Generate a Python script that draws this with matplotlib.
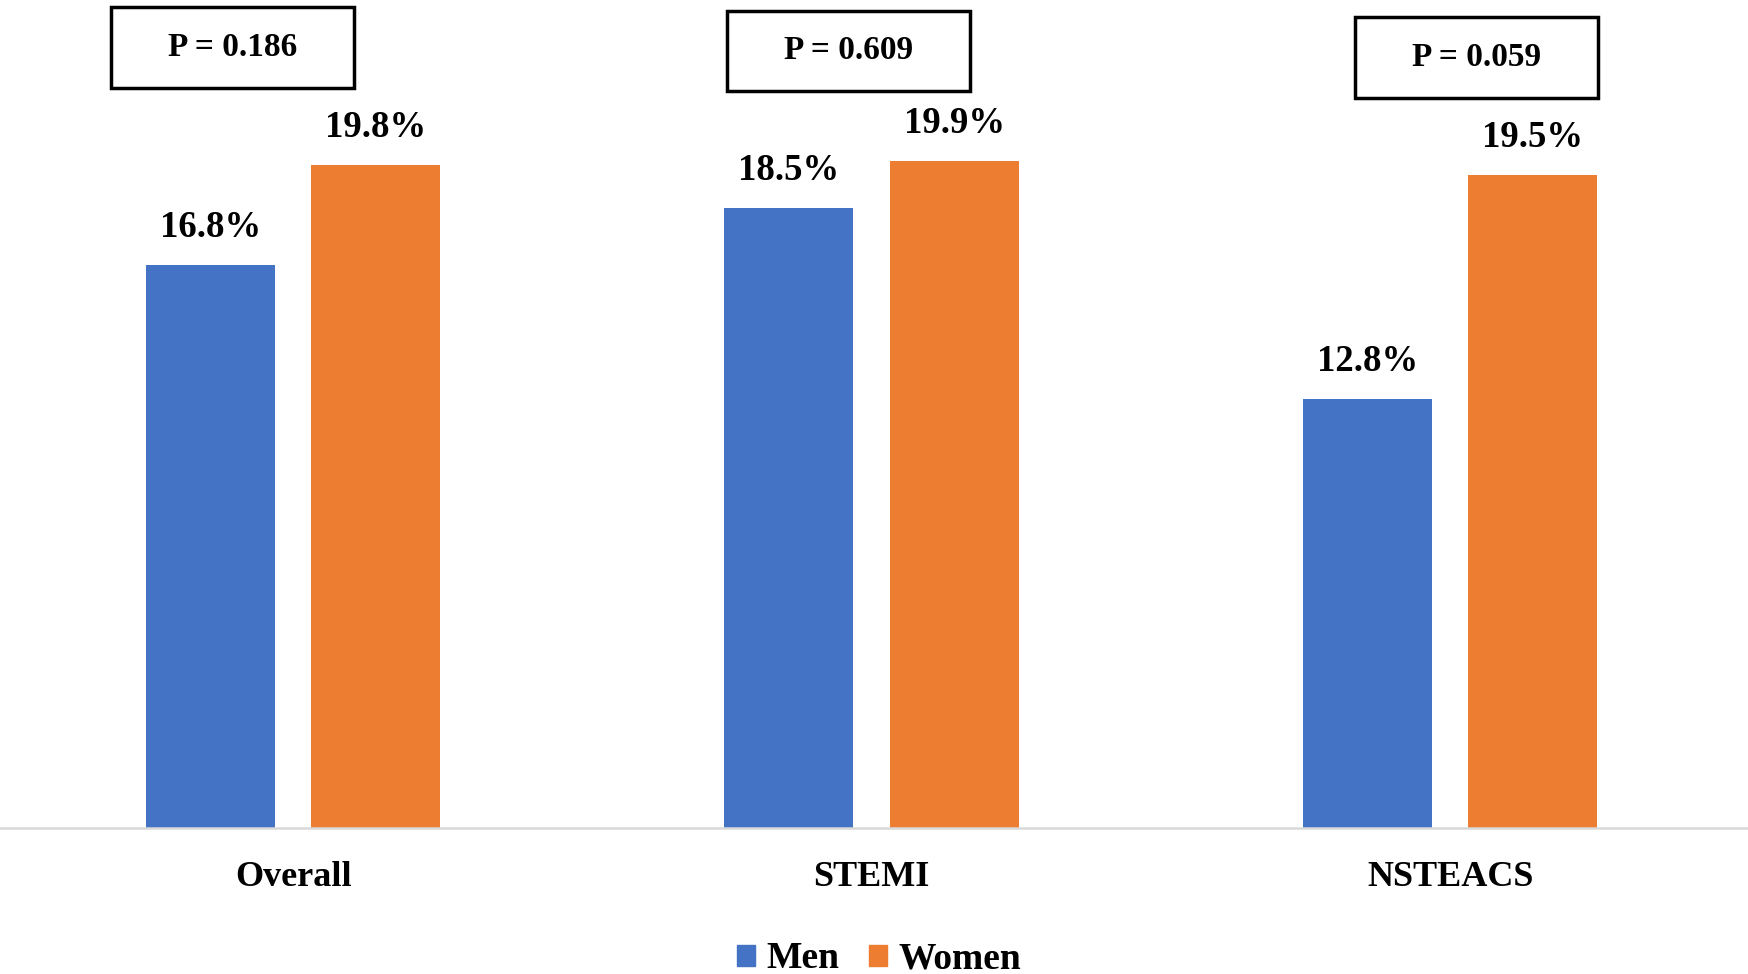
import matplotlib
matplotlib.use("Agg")
import matplotlib.pyplot as plt
from matplotlib.patches import Rectangle, Patch
import numpy as np

categories = ["Overall", "STEMI", "NSTEACS"]
men = [16.8, 18.5, 12.8]
women = [19.8, 19.9, 19.5]
p_values = ["P = 0.186", "P = 0.609", "P = 0.059"]
series_names = ["Men", "Women"]
colors = ["#4472C4", "#ED7D31"]

# P-box placement (offset from category centre, y centre in data units)
p_box_dx = [-0.104, -0.04, 0.045]
p_box_y = [23.3, 23.2, 23.0]

FONT = "Liberation Serif"

fig = plt.figure(figsize=(17.48, 9.74), dpi=100)
ax = fig.add_axes([0, 1 - 828 / 974, 1, 828 / 974])

x = np.arange(len(categories))
w = 0.223
off = 0.143
b1 = ax.bar(x - off, men, width=w, color=colors[0], label=series_names[0])
b2 = ax.bar(x + off, women, width=w, color=colors[1], label=series_names[1])

for bars, vals in ((b1, men), (b2, women)):
    for rect, v in zip(bars, vals):
        ax.annotate(f"{v:.1f}%", (rect.get_x() + rect.get_width() / 2, v),
                    xytext=(0, 27), textcoords="offset points",
                    ha="center", va="center", fontsize=26.5,
                    fontweight="bold", family=FONT)

bw, bh = 0.42, 2.4
for i, (pt, dx, yc) in enumerate(zip(p_values, p_box_dx, p_box_y)):
    cx = x[i] + dx
    ax.add_patch(Rectangle((cx - bw / 2, yc - bh / 2), bw, bh, fill=False,
                           edgecolor="black", linewidth=2.5, clip_on=False))
    ax.text(cx, yc, pt, ha="center", va="center", fontsize=24,
            fontweight="bold", family=FONT)

ax.set_xlim(-0.5066, 2.515)
ax.set_ylim(0, 828 / 33.5)
ax.set_xticks(x)
ax.set_xticklabels(categories, fontsize=26, fontweight="bold", family=FONT)
ax.tick_params(axis="x", length=0, pad=24)
ax.set_yticks([])
for s in ("top", "left", "right"):
    ax.spines[s].set_visible(False)
ax.spines["bottom"].set_color("#D9D9D9")
ax.spines["bottom"].set_linewidth(1.8)

handles = [Patch(facecolor=c, edgecolor=c) for c in colors]
fig.legend(handles, series_names, loc="center", bbox_to_anchor=(0.503, 1 - 959 / 974),
           ncol=2, frameon=False, handlelength=0.48, handleheight=0.48,
           handletextpad=0.3, columnspacing=0.8,
           prop={"family": FONT, "weight": "bold", "size": 27})

fig.savefig("out.png", dpi=100, facecolor="white")
